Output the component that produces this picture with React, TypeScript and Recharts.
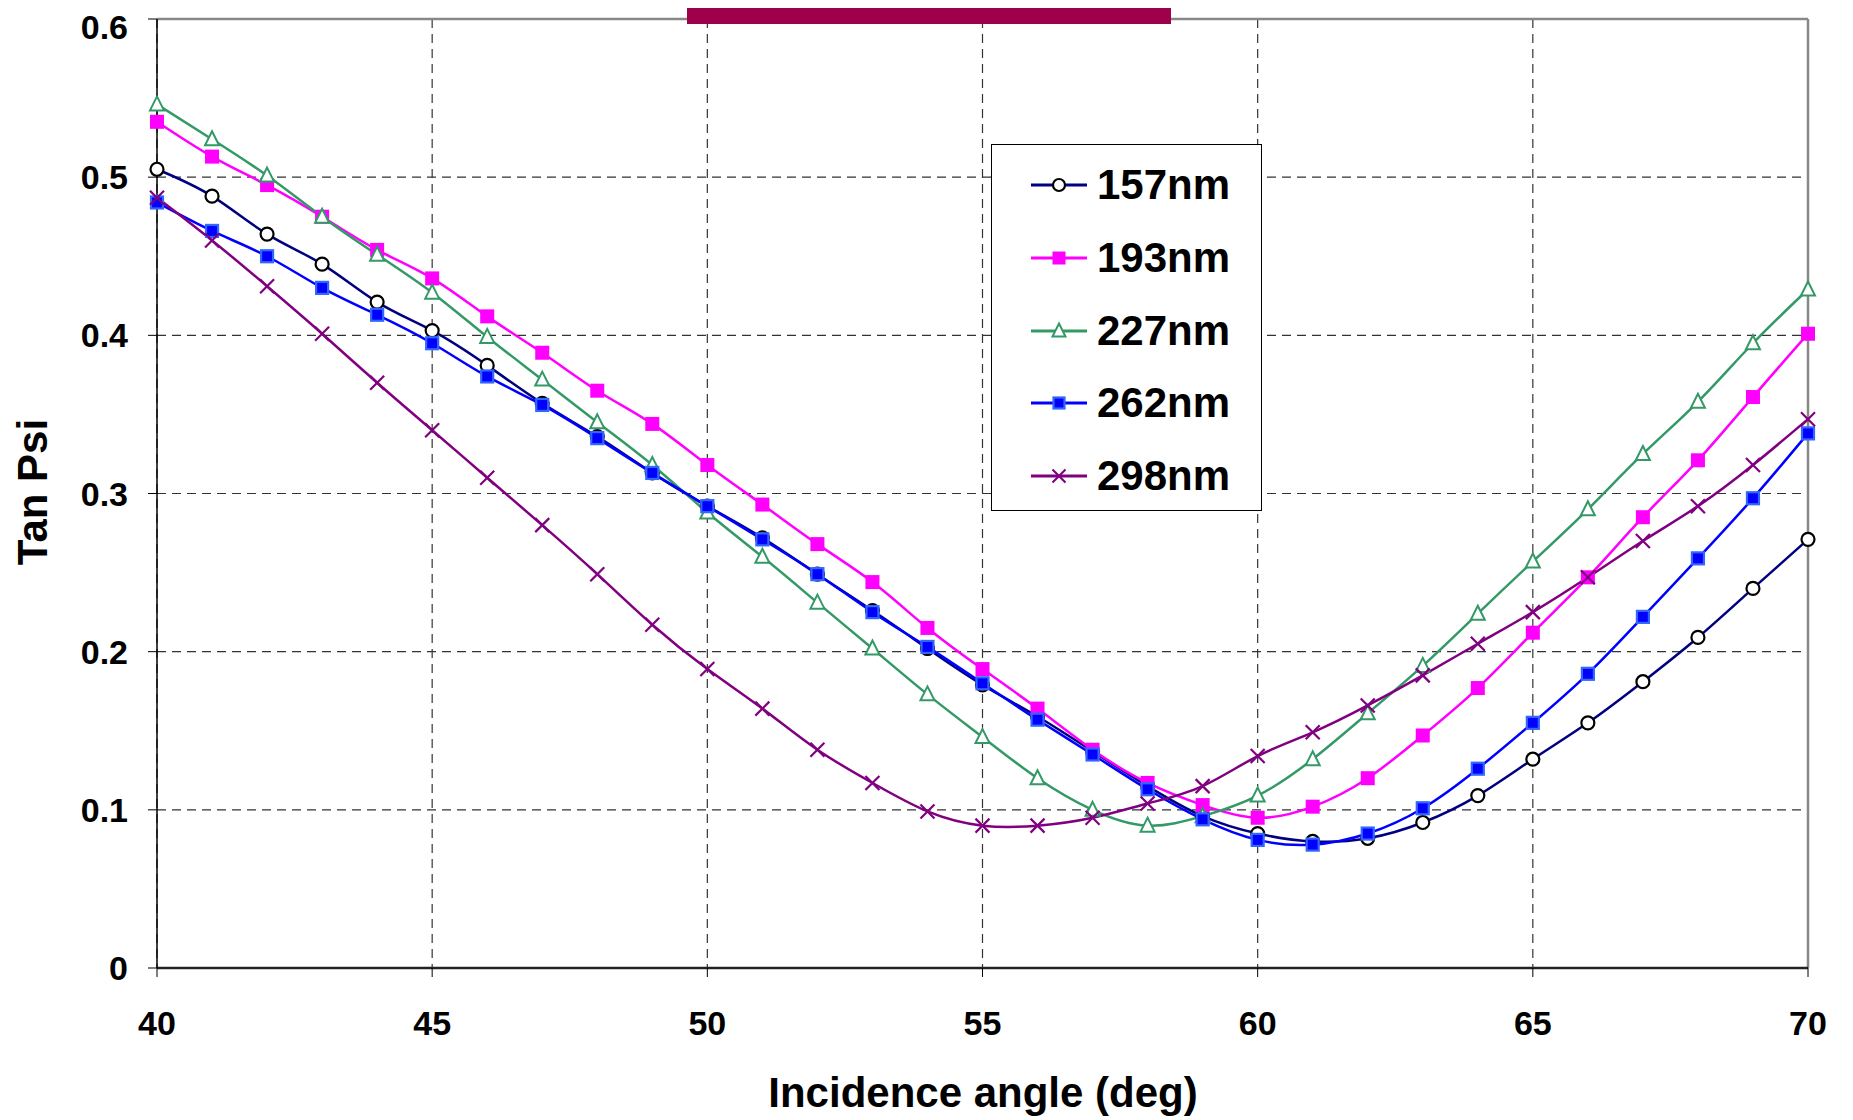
import { CartesianGrid, Line, LineChart, ReferenceLine, XAxis, YAxis } from 'recharts'

const angles = [40, 41, 42, 43, 44, 45, 46, 47, 48, 49, 50, 51, 52, 53, 54, 55, 56, 57, 58, 59, 60, 61, 62, 63, 64, 65, 66, 67, 68, 69, 70]

const tan157 = [0.505, 0.488, 0.464, 0.445, 0.421, 0.403, 0.381, 0.357, 0.336, 0.313, 0.292, 0.272, 0.249, 0.226, 0.202, 0.179, 0.159, 0.137, 0.115, 0.096, 0.085, 0.08, 0.082, 0.092, 0.109, 0.132, 0.155, 0.181, 0.209, 0.24, 0.271]
const tan193 = [0.535, 0.513, 0.495, 0.475, 0.454, 0.436, 0.412, 0.389, 0.365, 0.344, 0.318, 0.293, 0.268, 0.244, 0.215, 0.189, 0.164, 0.138, 0.117, 0.103, 0.095, 0.102, 0.12, 0.147, 0.177, 0.212, 0.247, 0.285, 0.321, 0.361, 0.401]
const tan227 = [0.546, 0.524, 0.501, 0.475, 0.451, 0.427, 0.399, 0.372, 0.345, 0.318, 0.288, 0.26, 0.231, 0.202, 0.173, 0.146, 0.12, 0.1, 0.09, 0.096, 0.109, 0.132, 0.161, 0.191, 0.224, 0.257, 0.29, 0.325, 0.358, 0.395, 0.429]
const tan262 = [0.484, 0.466, 0.45, 0.43, 0.413, 0.395, 0.374, 0.356, 0.335, 0.313, 0.292, 0.271, 0.249, 0.225, 0.203, 0.18, 0.157, 0.135, 0.113, 0.094, 0.081, 0.078, 0.085, 0.101, 0.126, 0.155, 0.186, 0.222, 0.259, 0.297, 0.338]
const tan298 = [0.487, 0.46, 0.431, 0.401, 0.37, 0.34, 0.31, 0.28, 0.249, 0.217, 0.189, 0.164, 0.138, 0.117, 0.099, 0.09, 0.09, 0.095, 0.104, 0.115, 0.134, 0.149, 0.166, 0.185, 0.205, 0.225, 0.247, 0.27, 0.292, 0.318, 0.347]

const xTicks = [40, 45, 50, 55, 60, 65, 70]
const yTicks = [0, 0.1, 0.2, 0.3, 0.4, 0.5, 0.6]

const data = angles.map((angle, i) => ({
  angle,
  s157: tan157[i],
  s193: tan193[i],
  s227: tan227[i],
  s262: tan262[i],
  s298: tan298[i]
}))

const FONT = '"Liberation Sans", Arial, sans-serif'

type Shape = 'circle' | 'square' | 'triangle' | 'bluesquare' | 'cross'

function Marker({ shape, cx, cy, color, s = 7 }: { shape: Shape; cx: number; cy: number; color: string; s?: number }) {
  if (shape === 'circle')
    return <circle cx={cx} cy={cy} r={s - 0.5} fill="#fff" stroke="#000" strokeWidth={2.2} />
  if (shape === 'square')
    return <rect x={cx - s} y={cy - s} width={s * 2} height={s * 2} fill={color} />
  if (shape === 'bluesquare')
    return <rect x={cx - s + 1} y={cy - s + 1} width={s * 2 - 2} height={s * 2 - 2} fill="#0000ff" stroke="#3366ff" strokeWidth={2.2} />
  if (shape === 'triangle')
    return <path d={`M${cx},${cy - s - 1} L${cx + s},${cy + s - 1} L${cx - s},${cy + s - 1} Z`} fill="#fff" stroke={color} strokeWidth={2} />
  return (
    <g stroke={color} strokeWidth={2.2}>
      <line x1={cx - s} y1={cy - s} x2={cx + s} y2={cy + s} />
      <line x1={cx - s} y1={cy + s} x2={cx + s} y2={cy - s} />
    </g>
  )
}

const series: { key: string; name: string; color: string; shape: Shape }[] = [
  { key: 's157', name: '157nm', color: '#000080', shape: 'circle' },
  { key: 's193', name: '193nm', color: '#ff00ff', shape: 'square' },
  { key: 's227', name: '227nm', color: '#339966', shape: 'triangle' },
  { key: 's262', name: '262nm', color: '#0000ff', shape: 'bluesquare' },
  { key: 's298', name: '298nm', color: '#800080', shape: 'cross' }
]

function LegendBox() {
  return (
    <div
      style={{
        position: 'absolute',
        left: 983,
        top: 136,
        width: 271,
        height: 367,
        boxSizing: 'border-box',
        border: '1.5px solid #000',
        background: '#fff',
        paddingTop: 4,
        paddingLeft: 39
      }}
    >
      {series.map((s) => (
        <div key={s.key} style={{ display: 'flex', alignItems: 'center', height: 72.7 }}>
          <svg width={56} height={20}>
            <line x1={0} y1={10} x2={56} y2={10} stroke={s.color} strokeWidth={3} />
            <Marker shape={s.shape} cx={28} cy={10} color={s.color} s={6.5} />
          </svg>
          <span style={{ marginLeft: 10, fontFamily: FONT, fontWeight: 'bold', fontSize: 42, color: '#000' }}>{s.name}</span>
        </div>
      ))}
    </div>
  )
}

const tickStyle = { fill: '#000', fontSize: 34, fontWeight: 'bold', fontFamily: FONT }

export default function App() {
  return (
    <div style={{ position: 'relative', width: 1845, height: 1112 }}>
      <div style={{ position: 'absolute', left: 679, top: -8, width: 484, height: 24, background: '#9e004c', zIndex: 2 }} />
      <LineChart width={1845} height={1112} data={data} margin={{ top: 11, right: 45, left: 0, bottom: 0 }}>
        <CartesianGrid stroke="#333" strokeDasharray="9 6" strokeWidth={1.2} />
        <XAxis
          dataKey="angle"
          type="number"
          domain={[40, 70]}
          ticks={xTicks}
          height={152}
          tickSize={9}
          tickMargin={34}
          tick={tickStyle}
          axisLine={{ stroke: '#222', strokeWidth: 2.5 }}
          tickLine={{ stroke: '#000' }}
        />
        <YAxis
          type="number"
          domain={[0, 0.6]}
          ticks={yTicks}
          width={149}
          tickSize={9}
          tickMargin={20}
          tick={tickStyle}
          axisLine={{ stroke: '#000', strokeWidth: 1.5 }}
          tickLine={{ stroke: '#000' }}
        />
        <ReferenceLine y={0.6} stroke="#888" strokeWidth={2.5} />
        <ReferenceLine x={70} stroke="#888" strokeWidth={2.5} />
        {series.map((s) => (
          <Line
            key={s.key}
            dataKey={s.key}
            name={s.name}
            type="natural"
            stroke={s.color}
            strokeWidth={2.5}
            isAnimationActive={false}
            dot={(p: any) => (
              <g key={`${s.key}-${p.index}`}>
                <Marker shape={s.shape} cx={p.cx} cy={p.cy} color={s.color} />
              </g>
            )}
            activeDot={false}
          />
        ))}
      </LineChart>
      <LegendBox />
      <div
        style={{
          position: 'absolute',
          left: 25,
          top: 484,
          transform: 'translate(-50%, -50%) rotate(-90deg)',
          fontFamily: FONT,
          fontWeight: 'bold',
          fontSize: 42,
          whiteSpace: 'nowrap'
        }}
      >
        Tan Psi
      </div>
      <div
        style={{
          position: 'absolute',
          left: 975,
          top: 1085,
          transform: 'translate(-50%, -50%)',
          fontFamily: FONT,
          fontWeight: 'bold',
          fontSize: 42,
          whiteSpace: 'nowrap'
        }}
      >
        Incidence angle (deg)
      </div>
    </div>
  )
}
